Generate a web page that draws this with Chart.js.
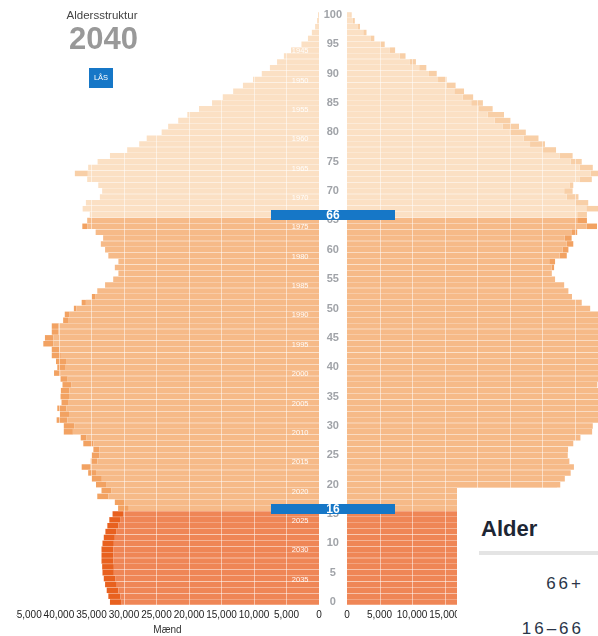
<!DOCTYPE html>
<html lang="da">
<head>
<meta charset="utf-8">
<title>Aldersstruktur 2040</title>
<script src="https://cdn.jsdelivr.net/npm/chart.js@4.4.1/dist/chart.umd.min.js"></script>
<style>
  html, body { margin: 0; padding: 0; background: #fff; width: 598px; height: 636px; overflow: hidden; }
  body { font-family: "Liberation Sans", Arial, sans-serif; }
  #stage { position: relative; width: 598px; height: 636px; overflow: hidden; }
  #menWrap { position: absolute; left: 16px; top: 0; width: 313px; height: 636px; overflow: hidden; }
  #menChart { position: absolute; left: -40px; top: 0; }
  #womenChart { position: absolute; left: 319px; top: 0; }
  #heading { position: absolute; left: 52px; top: 7px; width: 100px; text-align: center; font-size: 11.5px; line-height: 16px; color: #444; }
  #yearLabel { position: absolute; left: 52px; top: 22px; width: 103px; text-align: center; font-size: 31px; font-weight: bold; line-height: 34px; color: #999; }
  #lockBtn { position: absolute; left: 89px; top: 68px; width: 24px; height: 20px; background: #1677c7; color: #fff; font-size: 7.5px; line-height: 20px; text-align: center; }
  .marker { position: absolute; left: 271px; width: 124px; height: 10px; background: #1677c7; color: #fff; font-size: 12px; font-weight: bold; line-height: 10px; text-align: center; }
  #legend { position: absolute; left: 457px; top: 488px; width: 141px; height: 148px; background: #fff; }
  #legend .title { position: absolute; left: 24px; top: 28px; font-size: 22px; font-weight: bold; line-height: 26px; color: #1d2634; }
  #legend .rule { position: absolute; left: 22px; top: 63px; width: 119px; height: 4px; background: #e4e4e4; }
  #legend .item { position: absolute; right: 14px; font-size: 17px; line-height: 20px; letter-spacing: 3px; color: #2b3548; }
</style>
</head>
<body>
<div id="stage">
  <div id="menWrap"><canvas id="menChart" width="353" height="636"></canvas></div>
  <canvas id="womenChart" width="351" height="636"></canvas>
  <div id="heading">Aldersstruktur</div>
  <div id="yearLabel">2040</div>
  <div id="lockBtn">LÅS</div>
  <div id="legend">
    <div class="title">Alder</div>
    <div class="rule"></div>
    <div class="item" style="top:86px">66+</div>
    <div class="item" style="top:131px">16–66</div>
  </div>
</div>
<script>
  const year = 2040;
  const markerAges = [66, 16];
  const ages = Array.from({ length: 101 }, (_, i) => i);
  const axisTicks = [0, 5000, 10000, 15000, 20000, 25000, 30000, 35000, 40000, 45000];

  // total per age (outer edge of the bar), age 0 .. 100
  const menTotal = [
    32150, 32400, 32650, 32900, 33100, 33300, 33350, 33450, 33450, 33450,
    33300, 33100, 32850, 32550, 32250, 31750, 30900, 31400, 34100, 33450,
    34300, 34950, 35500, 36500, 35100, 34950, 34700, 36250, 36650, 39250,
    39250, 40350, 39850, 40250, 39600, 39750, 39700, 39450, 39750, 40750,
    40250, 40450, 41100, 41100, 42400, 42150, 41100, 41100, 39350, 39100,
    37700, 36500, 34950, 34100, 32900, 31650, 30850, 31400, 30850, 32400,
    32900, 33550, 33200, 34350, 36400, 35650, 35250, 36350, 35850, 33700,
    33350, 33950, 35650, 37550, 35500, 34050, 32150, 29500, 27650, 26500,
    24200, 23200, 21650, 20250, 18450, 16450, 14800, 13200, 11700, 10150,
    8800, 7550, 6450, 5400, 4300, 2700, 1700, 1100, 600, 300, 150
  ];
  // darker end piece of each bar
  const menTip = [
    1800, 1850, 1800, 1800, 1750, 1750, 1800, 1850, 1800, 1800,
    1750, 1700, 1650, 1700, 1750, 1650, 1650, 1550, 1700, 1550,
    1650, 1550, 1200, 1300, 1000, 1150, 900, 1550, 900, 1400,
    1600, 1650, 1400, 1400, 1000, 1300, 1300, 1400, 1100, 1000,
    1300, 1650, 1400, 1200, 1550, 1300, 1000, 1000, 750, 750,
    400, 650, 600, 0, 0, 0, 0, 0, 0, 0,
    0, 0, 0, 0, 750, 0, 0, 0, 0, 0,
    0, 0, 0, 2000, 0, 0, 0, 0, 0, 0,
    0, 0, 0, 0, 0, 0, 0, 0, 0, 0,
    0, 0, 0, 0, 0, 0, 0, 0, 0, 0, 0
  ];
  const womenTotal = [
    30600, 30800, 31100, 31300, 31500, 31700, 31700, 31800, 31800, 31700,
    31600, 31400, 31200, 31000, 30700, 30200, 29600, 30200, 32500, 32300,
    32800, 33500, 34400, 34900, 34200, 33950, 34000, 34800, 35900, 37700,
    37800, 38800, 39200, 39100, 39000, 39300, 38900, 38500, 39400, 39600,
    39800, 40000, 40500, 40800, 41300, 41000, 40500, 40200, 39500, 39200,
    37400, 36100, 34600, 34050, 33400, 32000, 31500, 31850, 32000, 33800,
    34050, 34800, 34550, 35400, 38450, 36900, 36900, 39000, 37100, 35600,
    34700, 34800, 37650, 39500, 37800, 36100, 34700, 32150, 30450, 29450,
    27500, 26450, 25200, 24150, 22400, 20900, 19400, 18000, 16700, 15300,
    13800, 12200, 10600, 9000, 7400, 5800, 4200, 3000, 2000, 1200, 700
  ];
  const womenTip = [
    0, 0, 0, 0, 0, 0, 0, 0, 0, 0,
    0, 0, 0, 0, 0, 0, 0, 0, 0, 0,
    0, 0, 0, 0, 0, 0, 0, 0, 0, 0,
    0, 0, 0, 0, 0, 0, 0, 0, 0, 0,
    0, 0, 0, 0, 0, 0, 0, 0, 0, 0,
    0, 0, 0, 0, 0, 0, 0, 400, 900, 1100,
    900, 1000, 1100, 800, 1600, 1500, 1500, 2200, 2000, 1800,
    1300, 600, 1900, 2000, 2000, 1700, 2000, 2000, 2300, 2300,
    2500, 2500, 2500, 2500, 2200, 1800, 1600, 1500, 1400, 1300,
    1200, 1100, 1000, 900, 800, 700, 600, 500, 400, 300, 200
  ];

  const FONT = '"Liberation Sans", Arial, sans-serif';
  const groupColors = {
    old:   ['#FBE0C4', '#F8CFA7'],
    work:  ['#F6BA88', '#F2A262'],
    young: ['#EF8656', '#E8611F']
  };
  function groupOf(age) {
    if (age >= markerAges[0]) return 'old';
    if (age >= markerAges[1]) return 'work';
    return 'young';
  }

  // white vertical grid lines on top of the bars
  const gridOverlay = {
    id: 'gridOverlay',
    afterDatasetsDraw(chart) {
      const { ctx, chartArea, scales: { x } } = chart;
      ctx.save();
      ctx.strokeStyle = 'rgba(255,255,255,0.5)';
      ctx.lineWidth = 1;
      x.ticks.forEach(t => {
        if (t.value === 0) return;
        const px = Math.round(x.getPixelForValue(t.value)) + 0.5;
        ctx.beginPath();
        ctx.moveTo(px, chartArea.top);
        ctx.lineTo(px, chartArea.bottom);
        ctx.stroke();
      });
      ctx.restore();
    }
  };

  const birthYears = {
    id: 'birthYears',
    afterDraw(chart) {
      const { ctx, chartArea, scales: { y } } = chart;
      ctx.save();
      ctx.font = '7.5px ' + FONT;
      ctx.fillStyle = 'rgba(255,255,255,0.95)';
      ctx.textAlign = 'right';
      ctx.textBaseline = 'middle';
      ages.forEach((age, i) => {
        const born = year - 1 - age;
        if (born % 5 !== 0) return;
        ctx.fillText(String(born), chartArea.right - 10.5, y.getPixelForValue(i) + 1);
      });
      ctx.restore();
    }
  };

  function makeChart(id, isMen) {
    const total = isMen ? menTotal : womenTotal;
    const tip = isMen ? menTip : womenTip;
    const base = total.map((v, i) => v - tip[i]);
    const yAxis = {
      stacked: true,
      reverse: true,
      display: !isMen,
      position: 'left',
      grid: { display: false, drawTicks: false },
      border: { display: false },
      ticks: {
        autoSkip: false, padding: 5, crossAlign: 'center',
        color: '#a0a3a8', font: { size: 11, weight: 'bold', family: FONT },
        callback: function (v) {
          const a = this.getLabelForValue(v);
          return a % 5 === 0 ? String(a) : '';
        }
      }
    };
    if (!isMen) yAxis.afterFit = s => { s.width = 28; };

    return new Chart(document.getElementById(id), {
      type: 'bar',
      data: {
        labels: ages,
        datasets: [
          { data: base, backgroundColor: ages.map(a => groupColors[groupOf(a)][0]), barPercentage: 0.94, categoryPercentage: 1 },
          { data: tip, backgroundColor: ages.map(a => groupColors[groupOf(a)][1]), barPercentage: 0.94, categoryPercentage: 1 }
        ]
      },
      options: {
        indexAxis: 'y',
        responsive: false,
        animation: false,
        layout: { padding: isMen ? { left: 40, right: 10, top: 12, bottom: 0 } : { left: 0, right: 20, top: 12, bottom: 0 } },
        plugins: { legend: { display: false }, tooltip: { enabled: false } },
        scales: {
          x: {
            stacked: true,
            reverse: isMen,
            min: 0,
            max: 46600,
            grid: { display: false, drawTicks: false },
            border: { display: false },
            afterBuildTicks: s => { s.ticks = axisTicks.map(v => ({ value: v })); },
            ticks: {
              padding: 4, maxRotation: 0, minRotation: 0, autoSkip: false,
              color: '#222', font: { size: 10, family: FONT },
              callback: v => v.toLocaleString('en-US')
            },
            title: { display: true, text: isMen ? 'Mænd' : 'Kvinder', color: '#333', font: { size: 10, family: FONT }, padding: { top: 2, bottom: 0 } },
            afterFit: s => { s.height = 31; }
          },
          y: yAxis
        }
      },
      plugins: isMen ? [gridOverlay, birthYears] : [gridOverlay]
    });
  }

  const menChart = makeChart('menChart', true);
  const womenChart = makeChart('womenChart', false);

  // blue age markers across the centre column
  const stage = document.getElementById('stage');
  const legend = document.getElementById('legend');
  markerAges.forEach(age => {
    const y = womenChart.scales.y.getPixelForValue(ages.indexOf(age));
    const el = document.createElement('div');
    el.className = 'marker';
    el.textContent = age;
    el.style.top = Math.round(y - 4.5) + 'px';
    stage.insertBefore(el, legend);
  });
</script>
</body>
</html>
